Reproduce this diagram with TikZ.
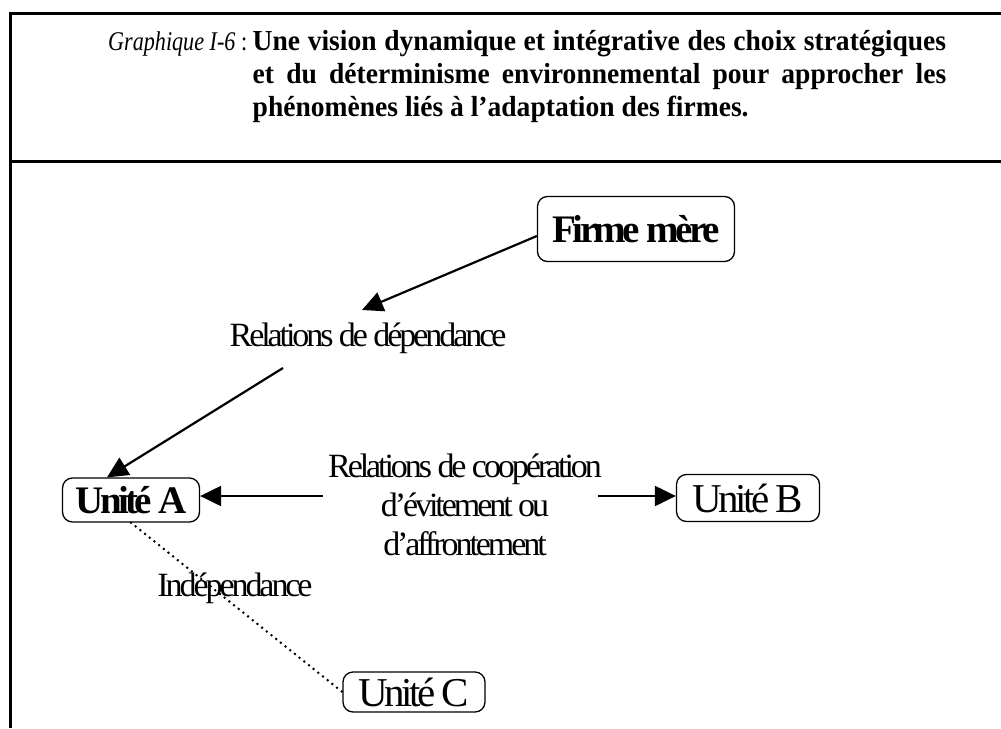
\documentclass[tikz,border=0pt]{standalone}
\usepackage{fontspec}
\setmainfont{Liberation Serif}
\newfontfamily\tightserif[LetterSpace=-9]{Liberation Serif}
\newfontfamily\titleserif[FakeStretch=0.95]{Liberation Serif}
\newfontfamily\titleitalic[FakeStretch=0.82]{Liberation Serif}
\usetikzlibrary{arrows.meta}
\begin{document}
\begin{tikzpicture}[x=1pt,y=-1pt,
  unitbox/.style={draw, rounded corners=10pt, line width=1.3pt, inner sep=0pt},
  rel/.style={-{Triangle[length=21pt,width=20pt]}, line width=2.2pt},
  lbl/.style={font=\tightserif\fontsize{34}{39}\selectfont, align=center, inner sep=0pt},
  indep/.style={line width=2.8pt, line cap=round, dash pattern=on 0pt off 6pt}
]
\useasboundingbox (0,0) rectangle (1001,728);

% frame and title band
\draw[line width=3pt] (10,728) -- (10,13) -- (1001,13);
\draw[line width=3pt] (10,161) -- (1001,161);

\node[anchor=north west, inner sep=0pt,
      font=\fontsize{29}{33}\selectfont] (title) at (108,30)
  {\sbox0{\titleitalic\fontsize{27}{33}\selectfont\itshape Graphique I-6\upshape\ :\ }\usebox0%
   \parbox[t]{\dimexpr 838pt-\wd0\relax}{\titleserif\bfseries\fontsize{29}{33}\selectfont
   Une vision dynamique et intégrative des choix stratégiques\linebreak
   et du déterminisme environnemental pour approcher les\linebreak
   phénomènes liés à l’adaptation des firmes.}};

% units
\node[unitbox, minimum width=197pt, minimum height=65pt,
      font=\tightserif\bfseries\fontsize{39}{42}\selectfont] (firme) at (636,229) {Firme mère};
\node[unitbox, minimum width=137pt, minimum height=44pt,
      font=\tightserif\bfseries\fontsize{39}{42}\selectfont] (ua) at (131,500) {Unité A};
\node[unitbox, minimum width=143pt, minimum height=47pt,
      font=\tightserif\fontsize{41}{42}\selectfont] (ub) at (748,498) {Unité B};
\node[unitbox, minimum width=142pt, minimum height=40pt,
      font=\tightserif\fontsize{41}{42}\selectfont] (uc) at (414,692) {Unité C};

% relation labels
\node[lbl] (dep) at (368,338) {Relations de dépendance};
\node[lbl] (coop) at (465,505) {Relations de coopération\\d’évitement ou\\d’affrontement};
\node[lbl] (ind) at (235,588) {Indépendance};

% connectors
\coordinate (deptip) at (362,310);
\coordinate (depfoot) at (283,368);
\coordinate (coopleft) at (323,496);
\coordinate (coopright) at (598,496);

\draw[rel] ([yshift=-7pt]firme.west) -- (deptip);
\draw[rel] (depfoot) -- ([xshift=-24pt]ua.north);
\draw[rel] (coopleft) -- (ua.east |- coopleft);
\draw[rel] (coopright) -- (ub.west |- coopright);
\draw[indep] (ua.south) -- (uc.west);
\end{tikzpicture}
\end{document}
